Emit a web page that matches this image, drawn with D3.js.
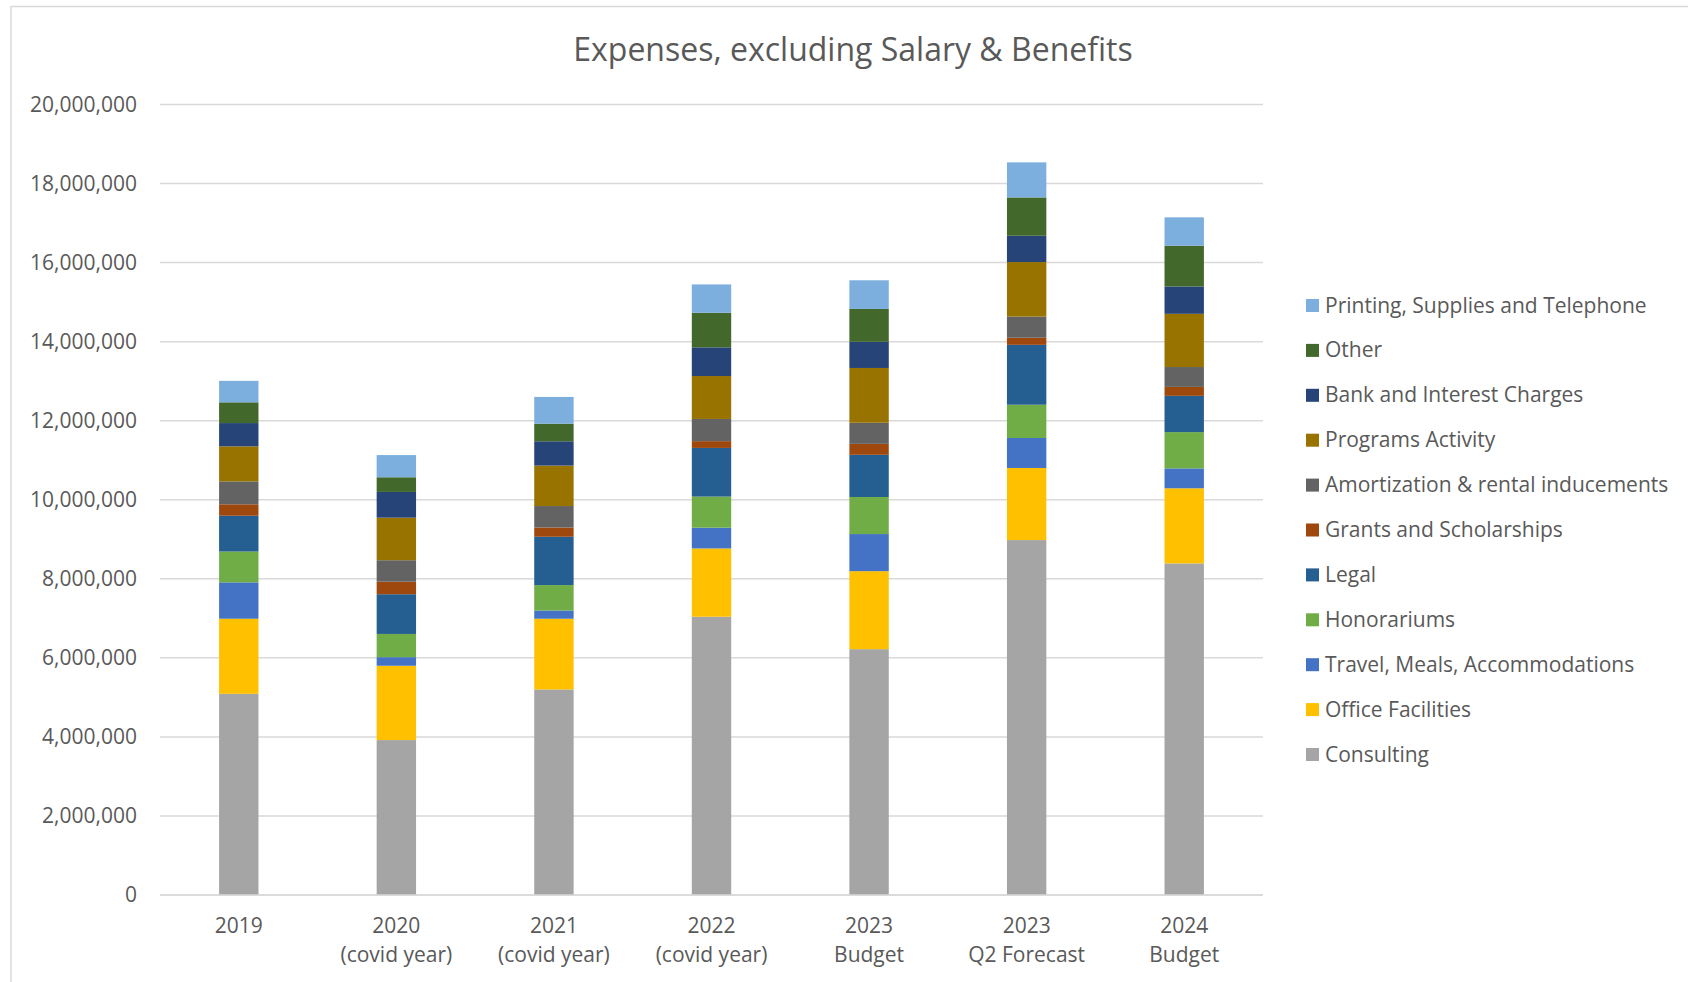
<!DOCTYPE html>
<html>
<head>
<meta charset="utf-8">
<script src="https://cdn.jsdelivr.net/npm/d3@7"></script>
<style>
  html, body { margin: 0; padding: 0; background: #fff; }
  svg { display: block; font-family: "Open Sans", "Noto Sans", sans-serif; }
</style>
</head>
<body>
<svg id="chart" width="1688" height="982"></svg>
<script>
const categories = [
  ["2019"],
  ["2020", "(covid year)"],
  ["2021", "(covid year)"],
  ["2022", "(covid year)"],
  ["2023", "Budget"],
  ["2023", "Q2 Forecast"],
  ["2024", "Budget"]
];
const seriesNames = [
  "Consulting", "Office Facilities", "Travel, Meals, Accommodations", "Honorariums",
  "Legal", "Grants and Scholarships", "Amortization & rental inducements",
  "Programs Activity", "Bank and Interest Charges", "Other", "Printing, Supplies and Telephone"
];
const consulting   = [5090000, 3920000, 5200000, 7040000, 6220000, 8980000, 8390000];
const office       = [1900000, 1880000, 1790000, 1728000, 1973000, 1824000, 1900000];
const travel       = [ 920000,  217000,  209000,  525000,  939000,  758000,  503000];
const honorariums  = [ 780000,  588000,  642000,  787000,  938000,  842000,  918000];
const legal        = [ 905000, 1005000, 1222000, 1231000, 1067000, 1515000,  918000];
const grants       = [ 290000,  317000,  235000,  172000,  277000,  181000,  226000];
const amortization = [ 580000,  543000,  543000,  561000,  534000,  534000,  503000];
const programs     = [ 886000, 1077000, 1023000, 1086000, 1386000, 1380000, 1346000];
const bank         = [ 589000,  651000,  615000,  726000,  662000,  665000,  692000];
const other        = [ 525000,  371000,  444000,  875000,  832000,  970000, 1032000];
const printing     = [ 543000,  561000,  678000,  717000,  725000,  887000,  717000];
const yTicks = [0, 2000000, 4000000, 6000000, 8000000, 10000000, 12000000, 14000000, 16000000, 18000000, 20000000];
const colors = ["#A5A5A5", "#FFC000", "#4472C4", "#70AD47", "#255E91", "#9E480E",
                "#636363", "#997300", "#264478", "#43682B", "#7CAFDD"];

const seriesValues = [consulting, office, travel, honorariums, legal, grants,
                      amortization, programs, bank, other, printing];

const rows = categories.map((c, i) => {
  const r = { cat: c.join("|") };
  seriesNames.forEach((s, j) => r[s] = seriesValues[j][i]);
  return r;
});

const svg = d3.select("#chart");
const textColor = "#595959";
const gridColor = "#d9d9d9";

// outer chart border
svg.append("rect").attr("x", 11).attr("y", 6.5).attr("width", 1800).attr("height", 1200)
  .attr("fill", "none").attr("stroke", gridColor).attr("stroke-width", 1.5);

const plot = { left: 160, right: 1263, top: 104.5, bottom: 895 };

const x = d3.scaleBand().domain(rows.map(r => r.cat))
  .range([plot.left, plot.right]).paddingInner(0.75).paddingOuter(0.375);
const y = d3.scaleLinear().domain([0, 20000000]).range([plot.bottom, plot.top]);

// gridlines
svg.append("g").selectAll("line").data(yTicks).join("line")
  .attr("x1", plot.left).attr("x2", plot.right)
  .attr("y1", d => y(d)).attr("y2", d => y(d))
  .attr("stroke", gridColor).attr("stroke-width", 1.5);

// y axis labels
const yAxis = d3.axisLeft(y).tickValues(yTicks).tickFormat(d3.format(",")).tickSize(0).tickPadding(0);
const yg = svg.append("g").attr("transform", `translate(${plot.left - 23},0)`).call(yAxis);
yg.select(".domain").remove();
yg.selectAll("text").attr("fill", textColor).style("font-size", "21px")
  .style("font-family", '"Open Sans", sans-serif');

// stacked bars
const stack = d3.stack().keys(seriesNames)(rows);
svg.append("g").selectAll("g").data(stack).join("g")
  .attr("fill", (d, i) => colors[i])
  .selectAll("rect").data(d => d).join("rect")
  .attr("x", d => x(d.data.cat))
  .attr("width", x.bandwidth())
  .attr("y", d => y(d[1]))
  .attr("height", d => y(d[0]) - y(d[1]));

// baseline
svg.append("line").attr("x1", plot.left).attr("x2", plot.right)
  .attr("y1", y(0)).attr("y2", y(0)).attr("stroke", gridColor).attr("stroke-width", 1.5);

// x axis labels
const xg = svg.append("g");
rows.forEach((r, i) => {
  const t = xg.append("text")
    .attr("x", x(r.cat) + x.bandwidth() / 2)
    .attr("y", 933)
    .attr("text-anchor", "middle")
    .attr("fill", textColor)
    .style("font-size", "21px");
  categories[i].forEach((line, k) => {
    t.append("tspan").attr("x", x(r.cat) + x.bandwidth() / 2)
      .attr("dy", k === 0 ? 0 : 29).text(line);
  });
});

// title
svg.append("text").attr("x", 853).attr("y", 61).attr("text-anchor", "middle")
  .attr("fill", textColor).style("font-size", "32px")
  .text("Expenses, excluding Salary & Benefits");

// legend (reverse order)
const legendOrder = seriesNames.map((s, i) => ({ name: s, color: colors[i] })).reverse();
const lg = svg.append("g");
legendOrder.forEach((d, i) => {
  const cy = 305.5 + i * 44.9;
  lg.append("rect").attr("x", 1306).attr("y", cy - 6.5).attr("width", 13).attr("height", 13)
    .attr("fill", d.color);
  lg.append("text").attr("x", 1325).attr("y", cy + 7).attr("fill", textColor)
    .style("font-size", "21px").text(d.name);
});
</script>
</body>
</html>
